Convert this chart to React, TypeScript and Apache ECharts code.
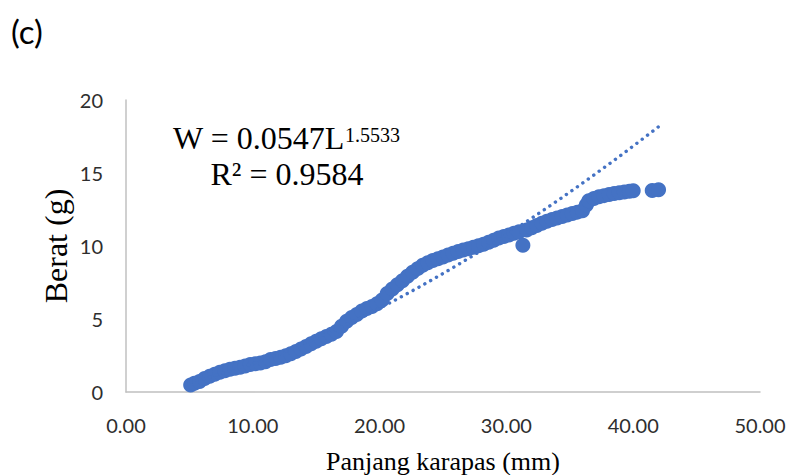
import React, { useEffect, useRef } from "react";
import * as echarts from "echarts";

// Carapace length (mm) and weight (g)
const lengths: number[] = [
  5.1, 5.4, 5.8, 6.2, 6.6, 7.0, 7.4, 7.8, 8.2, 8.6, 9.0, 9.4, 9.8, 10.2, 10.6, 11.0,
  11.4, 11.8, 12.2, 12.6, 13.0, 13.4, 13.8, 14.2, 14.6, 15.0, 15.4, 15.8, 16.2, 16.6,
  17.0, 17.4, 17.8, 18.2, 18.6, 19.0, 19.4, 19.8, 20.2, 20.6, 21.0, 21.4, 21.8, 22.2,
  22.6, 23.0, 23.4, 23.8, 24.2, 24.6, 25.0, 25.4, 25.8, 26.2, 26.6, 27.0, 27.4, 27.8,
  28.2, 28.6, 29.0, 29.4, 29.8, 30.2, 30.6, 31.0, 31.3, 31.6, 32.0, 32.4, 32.8, 33.2,
  33.6, 34.0, 34.4, 34.8, 35.2, 35.6, 36.0, 36.3, 36.5, 36.9, 37.3, 37.7, 38.1, 38.5,
  38.9, 39.3, 39.7, 40.0, 41.5, 42.0,
];
const weights: number[] = [
  0.48, 0.6, 0.72, 0.92, 1.08, 1.22, 1.35, 1.45, 1.55, 1.62, 1.7, 1.78, 1.88, 1.93, 1.98, 2.08,
  2.22, 2.3, 2.38, 2.48, 2.62, 2.78, 2.95, 3.12, 3.3, 3.48, 3.65, 3.8, 3.95, 4.15,
  4.5, 4.85, 5.1, 5.3, 5.55, 5.72, 5.85, 6.05, 6.3, 6.75, 7.05, 7.35, 7.62, 7.92,
  8.2, 8.45, 8.68, 8.85, 9.0, 9.12, 9.25, 9.38, 9.5, 9.62, 9.72, 9.82, 9.92, 10.02,
  10.12, 10.25, 10.4, 10.55, 10.65, 10.75, 10.88, 10.98, 10.05, 11.1, 11.25, 11.4, 11.55, 11.7,
  11.82, 11.92, 12.02, 12.12, 12.22, 12.32, 12.42, 12.8, 13.1, 13.25, 13.38, 13.45, 13.52, 13.6,
  13.65, 13.7, 13.75, 13.78, 13.8, 13.85,
];

// Power trendline W = a * L^b as printed on the chart
const trendA = 0.0547;
const trendB = 1.5533;
const equationMain = "W = 0.0547L";
const equationExp = "1.5533";
const r2Text = "R² = 0.9584";

const xTicks = { min: 0, max: 50, interval: 10 };
const yTicks = { min: 0, max: 20, interval: 5 };

const xTitle = "Panjang karapas (mm)";
const yTitle = "Berat (g)";
const panelLabel = "(c)";

export default function App() {
  const ref = useRef<HTMLDivElement>(null);

  useEffect(() => {
    if (!ref.current) return;
    const chart = echarts.init(ref.current, undefined, { renderer: "svg" });

    const scatterData = lengths.map((l, i) => [l, weights[i]]);
    const lMin = Math.min(...lengths);
    const lMax = Math.max(...lengths);
    const trendData: number[][] = [];
    const steps = 80;
    for (let i = 0; i <= steps; i++) {
      const l = lMin + ((lMax - lMin) * i) / steps;
      trendData.push([l, trendA * Math.pow(l, trendB)]);
    }

    const blue = "#4472C4";
    const serif = "'Liberation Serif', 'Times New Roman', serif";
    const sans = "Lato, 'Open Sans', sans-serif";

    chart.setOption({
      animation: false,
      backgroundColor: "#ffffff",
      grid: { left: 126, top: 100, right: 29, bottom: 83, containLabel: false },
      xAxis: {
        type: "value",
        min: xTicks.min,
        max: xTicks.max,
        interval: xTicks.interval,
        axisLine: { show: true, onZero: false, lineStyle: { color: "#c0c0c0", width: 1.5 } },
        axisTick: { show: false },
        splitLine: { show: false },
        axisLabel: {
          formatter: (v: number) => v.toFixed(2),
          fontSize: 20,
          fontFamily: sans,
          color: "#2e2e2e",
          margin: 23,
        },
      },
      yAxis: {
        type: "value",
        min: yTicks.min,
        max: yTicks.max,
        interval: yTicks.interval,
        axisLine: { show: true, lineStyle: { color: "#c0c0c0", width: 1.5 } },
        axisTick: { show: false },
        splitLine: { show: false },
        axisLabel: {
          fontSize: 20,
          fontFamily: sans,
          color: "#2e2e2e",
          margin: 23,
        },
      },
      series: [
        {
          type: "scatter",
          data: scatterData,
          symbol: "circle",
          symbolSize: 15,
          itemStyle: { color: blue, opacity: 1 },
          z: 2,
        },
        {
          type: "line",
          data: trendData,
          showSymbol: false,
          smooth: false,
          lineStyle: { color: blue, width: 3.4, type: [0.1, 6.6], cap: "round" },
          z: 3,
        },
      ],
      graphic: [
        {
          type: "text",
          x: 11,
          y: 31,
          style: {
            text: panelLabel,
            font: `33px ${sans}`,
            fill: "#000",
            textAlign: "left",
            textVerticalAlign: "middle",
          },
        },
        {
          type: "text",
          x: 56,
          y: 246,
          rotation: Math.PI / 2,
          style: {
            text: yTitle,
            font: `32px ${serif}`,
            fill: "#000",
            textAlign: "center",
            textVerticalAlign: "middle",
          },
        },
        {
          type: "text",
          x: 443,
          y: 461,
          style: {
            text: xTitle,
            font: `26px ${serif}`,
            fill: "#000",
            textAlign: "center",
            textVerticalAlign: "middle",
          },
        },
        {
          type: "text",
          x: 173,
          y: 138,
          style: {
            text: equationMain,
            font: `32px ${serif}`,
            fill: "#000",
            textAlign: "left",
            textVerticalAlign: "middle",
          },
        },
        {
          type: "text",
          x: 345,
          y: 135,
          style: {
            text: equationExp,
            font: `20px ${serif}`,
            fill: "#000",
            textAlign: "left",
            textVerticalAlign: "middle",
          },
        },
        {
          type: "text",
          x: 287,
          y: 174,
          style: {
            text: r2Text,
            font: `32px ${serif}`,
            fill: "#000",
            textAlign: "center",
            textVerticalAlign: "middle",
          },
        },
      ],
    });

    return () => chart.dispose();
  }, []);

  return (
    <div
      ref={ref}
      style={{ position: "fixed", left: 0, top: 0, width: 789, height: 475, background: "#fff" }}
    />
  );
}
